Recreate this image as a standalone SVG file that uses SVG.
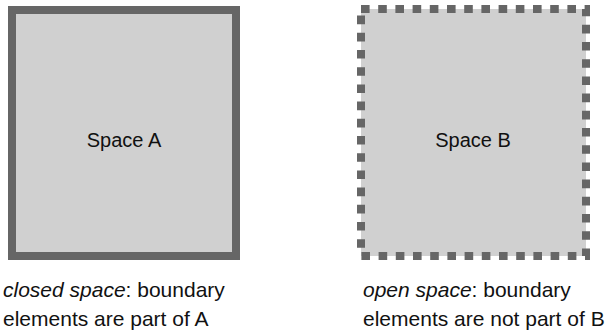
<svg xmlns="http://www.w3.org/2000/svg" width="610" height="331" viewBox="0 0 610 331">
<style>
.box{fill:#d0d0d0;stroke:#666666;stroke-width:8}
.dash{stroke-dasharray:8.6 8.6}
.lbl{font-family:"Liberation Sans",Arial,sans-serif;font-size:20px;fill:#111}
.cap{font-family:"Liberation Sans",Arial,sans-serif;font-size:21px;fill:#111}
</style>
<rect width="610" height="331" fill="#ffffff"/>
<g id="spaceA">
<rect class="box" x="12" y="10" width="224" height="246"/>
<text class="lbl" x="124" y="147" text-anchor="middle">Space A</text>
</g>
<g id="spaceB">
<rect class="box dash" x="361" y="9" width="225" height="247"/>
<text class="lbl" x="473" y="147" text-anchor="middle">Space B</text>
</g>
<g id="connectors"></g>
<g id="captions">
<text class="cap" x="3" y="297"><tspan font-style="italic">closed space</tspan>: boundary</text>
<text class="cap" x="3" y="326">elements are part of A</text>
<text class="cap" x="363" y="297"><tspan font-style="italic">open space</tspan>: boundary</text>
<text class="cap" x="363" y="326">elements are not part of B</text>
</g>
</svg>
